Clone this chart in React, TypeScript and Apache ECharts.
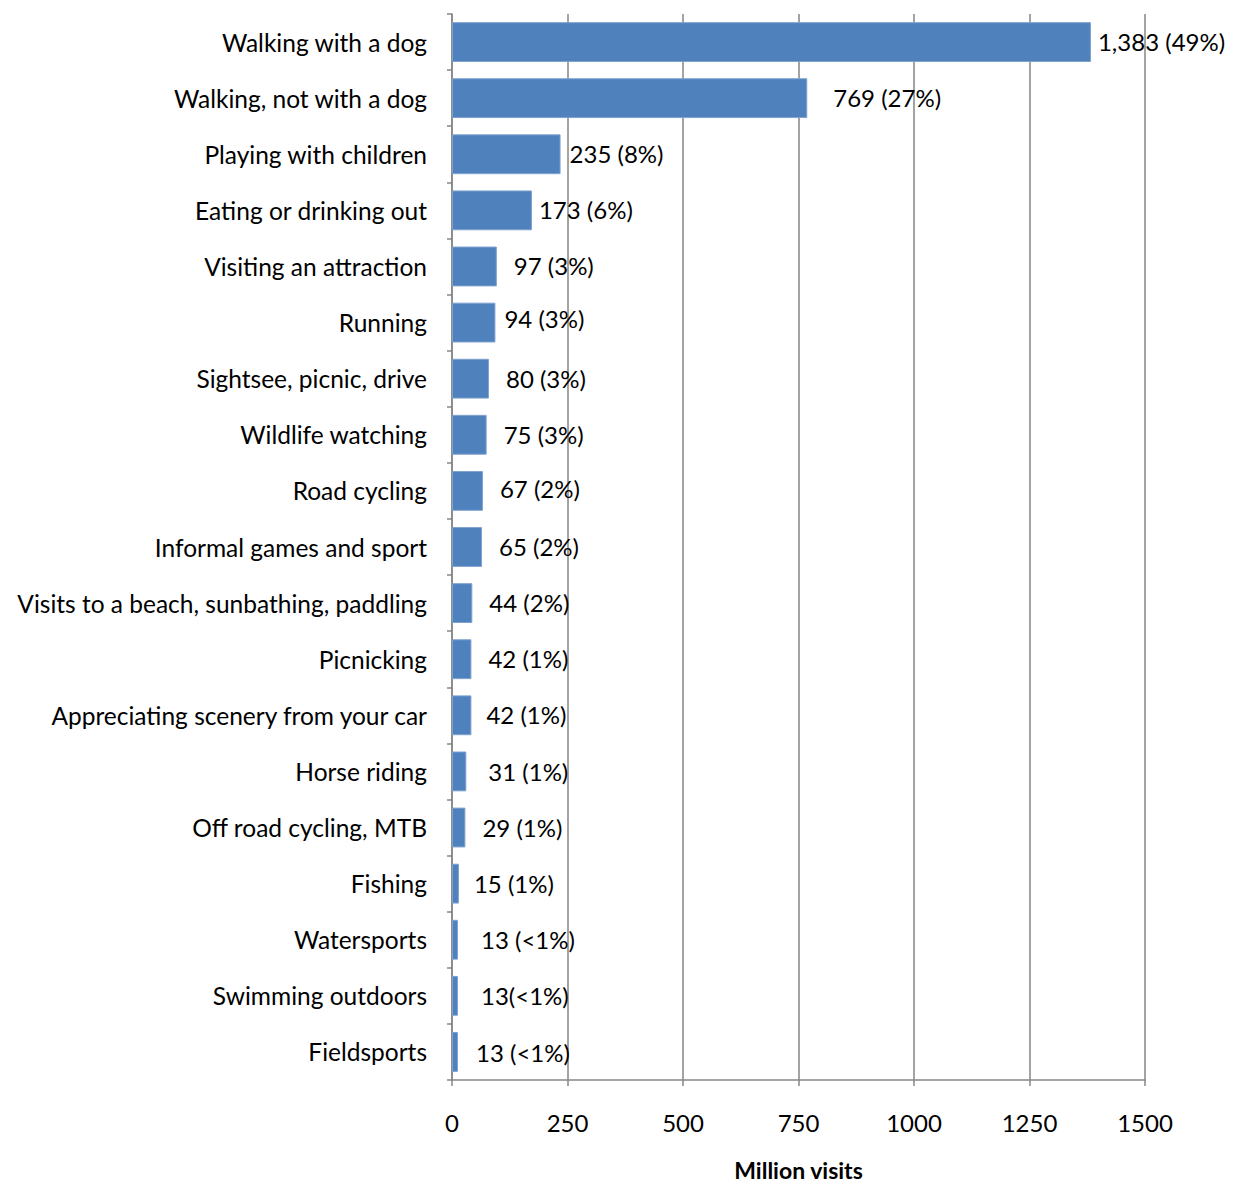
import React, { useEffect, useRef } from "react";
import * as echarts from "echarts";

const categories = [
  "Walking with a dog",
  "Walking, not with a dog",
  "Playing with children",
  "Eating or drinking out",
  "Visiting an attraction",
  "Running",
  "Sightsee, picnic, drive",
  "Wildlife watching",
  "Road cycling",
  "Informal games and sport",
  "Visits to a beach, sunbathing, paddling",
  "Picnicking",
  "Appreciating scenery from your car",
  "Horse riding",
  "Off road cycling, MTB",
  "Fishing",
  "Watersports",
  "Swimming outdoors",
  "Fieldsports",
];

const values = [1383, 769, 235, 173, 97, 94, 80, 75, 67, 65, 44, 42, 42, 31, 29, 15, 13, 13, 13];

const labels = [
  "1,383 (49%)",
  "769 (27%)",
  "235 (8%)",
  "173 (6%)",
  "97 (3%)",
  "94 (3%)",
  "80 (3%)",
  "75 (3%)",
  "67 (2%)",
  "65 (2%)",
  "44 (2%)",
  "42 (1%)",
  "42 (1%)",
  "31 (1%)",
  "29 (1%)",
  "15 (1%)",
  "13 (<1%)",
  "13(<1%)",
  "13 (<1%)",
];

// label placement tweaks (as manually placed in the original)
const labelGaps = [7, 26, 9, 7, 17, 9, 17, 17, 17, 17, 17, 17, 15, 22, 17, 15, 23, 23, 18];
const labelShiftY = [-1, -1, -1, -1, -1, -4, 0, 0, -2, -1, -1, -1, -1, 0, 0, 0, 0, 0, 1];

const xTicks = { min: 0, max: 1500, interval: 250 };

export default function App() {
  const ref = useRef<HTMLDivElement>(null);
  useEffect(() => {
    if (!ref.current) return;
    const chart = echarts.init(ref.current, null, { renderer: "svg" });
    const font = "Lato, 'Open Sans', sans-serif";
    const gray = "#868686";
    chart.setOption({
      animation: false,
      textStyle: { fontFamily: font },
      grid: { left: 452, right: 91, top: 14, bottom: 105, containLabel: false, outerBoundsMode: "none" },
      xAxis: {
        type: "value",
        min: xTicks.min,
        max: xTicks.max,
        interval: xTicks.interval,
        name: "Million visits",
        nameLocation: "middle",
        nameGap: 80,
        nameTextStyle: {
          fontFamily: font,
          fontSize: 23,
          fontWeight: "bold",
          color: "#000",
          lineHeight: 20,
        },
        axisLine: { show: true, lineStyle: { color: gray, width: 1.5 } },
        axisTick: { show: true, length: 6, lineStyle: { color: gray, width: 1.5 } },
        splitLine: { show: true, lineStyle: { color: gray, width: 1.5 } },
        axisLabel: {
          fontFamily: font,
          fontSize: 24,
          color: "#000",
          margin: 30,
          formatter: (v: number) => String(v),
        },
      },
      yAxis: {
        type: "category",
        data: categories,
        inverse: true,
        axisLine: { show: true, lineStyle: { color: gray, width: 1.5 } },
        axisTick: { show: true, length: 5, alignWithLabel: false, lineStyle: { color: gray, width: 1.5 } },
        axisLabel: { fontFamily: font, fontSize: 24.5, color: "#000", margin: 25, padding: [0, 0, 2, 0] },
        splitLine: { show: false },
      },
      series: [
        {
          type: "bar",
          barCategoryGap: "29%",
          data: values.map((v, i) => ({
            value: v,
            label: {
              show: true,
              position: "right",
              distance: labelGaps[i],
              offset: [0, labelShiftY[i]],
              formatter: () => labels[i],
            },
          })),
          itemStyle: { color: "#4F81BD", borderColor: "#7FA2CF", borderWidth: 1 },
          label: { fontFamily: font, fontSize: 24, color: "#000" },
        },
      ],
    });
    return () => chart.dispose();
  }, []);
  return (
    <div
      ref={ref}
      style={{ position: "absolute", left: 0, top: 0, width: 1236, height: 1185, background: "#fff" }}
    />
  );
}
